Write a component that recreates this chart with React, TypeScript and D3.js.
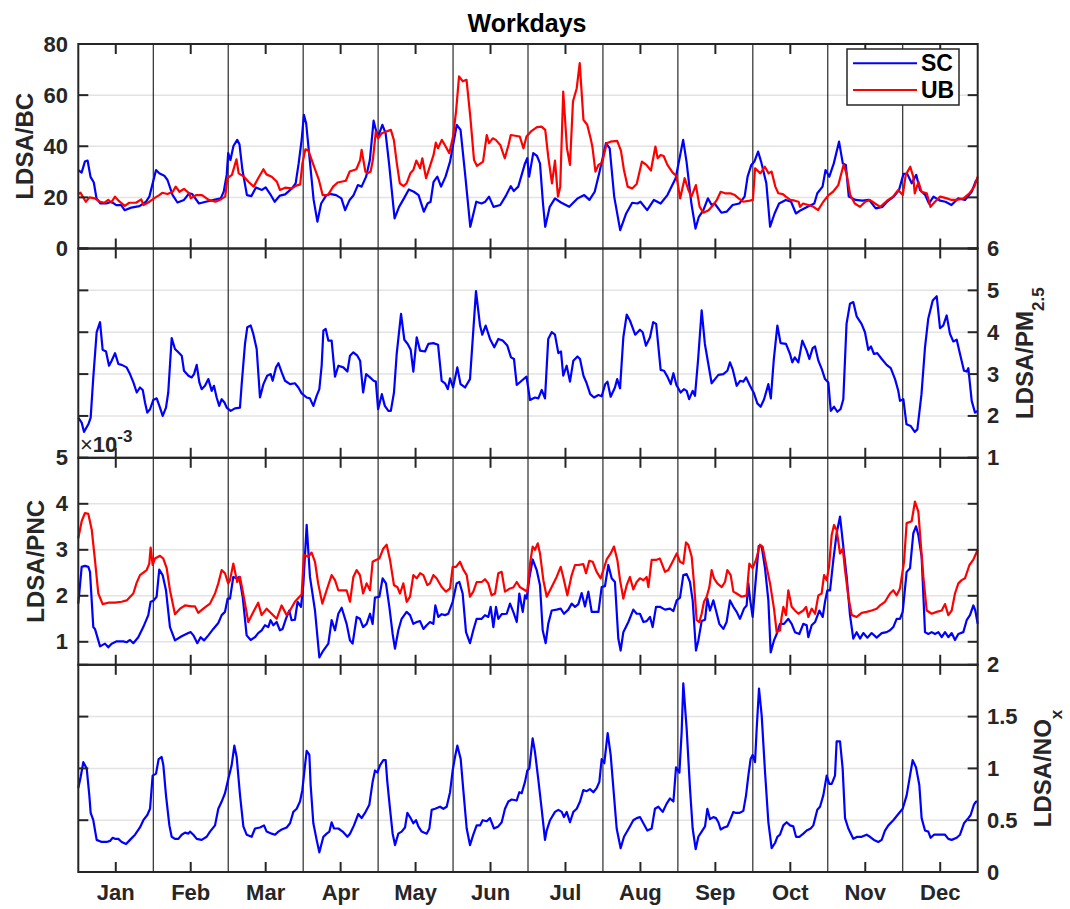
import React from 'react';
import * as d3 from 'd3';

type P = [number, number];

const months = ['Jan', 'Feb', 'Mar', 'Apr', 'May', 'Jun', 'Jul', 'Aug', 'Sep', 'Oct', 'Nov', 'Dec'];
const bcTicks = [0, 20, 40, 60, 80];
const pmTicks = [1, 2, 3, 4, 5, 6];
const pncTicks = [1, 2, 3, 4, 5];
const noxTicks = [0, 0.5, 1, 1.5, 2];
const legendNames = ['SC', 'UB'];

const scBC: P[] = [[0,30.7],[.044,29.7],[.088,34],[.124,34.4],[.163,28],[.207,25.8],[.243,19.6],[.296,17.6],[.375,17.6],[.441,18.3],[.507,17],[.573,17],[.618,15],[.706,16],[.816,16.6],[.904,18.3],[.948,20.3],[1.037,30.7],[1.08,29.4],[1.147,28.5],[1.19,26.8],[1.257,21],[1.323,18],[1.41,19],[1.48,21.6],[1.52,21.3],[1.61,17.6],[1.70,18.3],[1.81,19],[1.90,19.6],[1.94,22.2],[1.98,28.8],[2.0,37.3],[2.03,34.6],[2.07,40.1],[2.12,42.5],[2.15,40.8],[2.19,30.7],[2.25,20.9],[2.31,20.5],[2.37,23.9],[2.45,22.9],[2.50,23.9],[2.56,21.3],[2.62,18.3],[2.69,20.7],[2.76,21.2],[2.85,23.5],[2.90,25.5],[2.94,33.3],[2.98,42.5],[3.01,52.3],[3.04,49],[3.09,34],[3.14,19],[3.19,10.5],[3.24,17.6],[3.31,20.9],[3.37,21.3],[3.44,20.9],[3.51,19.6],[3.56,15],[3.62,19],[3.67,20.7],[3.73,24.8],[3.78,24.2],[3.84,28.1],[3.89,34.6],[3.94,50],[3.97,46.4],[4.0,43.8],[4.057,48.4],[4.10,45.1],[4.146,33.3],[4.22,11.8],[4.28,16.3],[4.345,19.6],[4.41,23.1],[4.477,22.2],[4.54,20.9],[4.61,14.4],[4.66,17.6],[4.70,18.3],[4.74,26.1],[4.79,28.1],[4.84,24.2],[4.90,28.1],[4.96,34],[5.05,48.4],[5.10,46.4],[5.16,29.4],[5.23,8.5],[5.31,18.3],[5.38,17.6],[5.43,18.3],[5.48,20.3],[5.54,16.3],[5.63,17],[5.71,20.9],[5.77,24.4],[5.81,22.5],[5.87,24.2],[5.96,33.3],[5.99,35.3],[6.015,28.1],[6.07,37.3],[6.12,36.2],[6.16,33.3],[6.20,17.6],[6.23,8.5],[6.29,16.3],[6.36,19.6],[6.44,18],[6.55,16.3],[6.66,19.6],[6.75,20.9],[6.82,19],[6.89,22.2],[6.95,29.4],[7.04,41.2],[7.09,39.2],[7.15,20.3],[7.23,7.2],[7.31,13.7],[7.39,17.9],[7.46,17.6],[7.50,18.3],[7.59,15],[7.68,19],[7.77,17.6],[7.86,20.9],[7.97,27.5],[8.07,42.5],[8.115,34],[8.18,17.6],[8.235,7.8],[8.28,12.4],[8.34,15],[8.40,19.6],[8.45,17],[8.49,17.6],[8.58,14],[8.65,14.4],[8.73,17],[8.82,17.6],[8.89,20.3],[8.93,28.1],[8.98,32.7],[9.02,34],[9.07,37.9],[9.11,34],[9.18,25.5],[9.23,8.5],[9.29,13.7],[9.35,17.6],[9.44,19],[9.51,18.3],[9.575,13.7],[9.64,15],[9.73,16.3],[9.82,17.6],[9.86,21.6],[9.93,24.2],[9.97,30.7],[10.02,28.1],[10.08,33.3],[10.15,41.8],[10.20,33.3],[10.24,32.7],[10.28,20.3],[10.37,19],[10.46,18.7],[10.55,19],[10.64,15.7],[10.73,16.3],[10.79,18.3],[10.88,20.3],[10.95,22.9],[11.01,29.2],[11.06,29.2],[11.12,25.5],[11.18,28.8],[11.23,22.9],[11.30,20.9],[11.35,17.6],[11.41,20.3],[11.50,18.7],[11.57,18.3],[11.65,17],[11.74,19.6],[11.83,19],[11.92,22.2],[11.98,26.8]];

const ubBC: P[] = [[0,21.3],[.03,21.8],[.10,18.3],[.15,20],[.22,19.6],[.29,18.3],[.35,17.9],[.40,19],[.44,18],[.49,20.3],[.54,18.6],[.62,16.7],[.68,17.9],[.77,17.9],[.84,19.2],[.87,17],[.95,18.3],[1.01,19.6],[1.08,20.9],[1.12,21.8],[1.19,21.3],[1.26,22.2],[1.30,24.2],[1.35,22.2],[1.41,23.3],[1.48,21.6],[1.50,19.6],[1.57,20.9],[1.65,20.9],[1.74,19],[1.83,18.3],[1.90,19.2],[1.96,20.3],[1.99,27.5],[2.05,28.8],[2.11,34.9],[2.14,29.4],[2.21,28.1],[2.27,26.1],[2.34,24.2],[2.40,27.5],[2.47,31],[2.51,29],[2.58,28.1],[2.65,26.1],[2.69,22.9],[2.76,23.8],[2.85,23.5],[2.91,24.6],[2.96,25.1],[2.99,33.3],[3.03,38.8],[3.07,38.3],[3.13,33.3],[3.21,26.8],[3.26,20.9],[3.33,20.9],[3.40,24.2],[3.46,25.8],[3.57,26.5],[3.62,30.1],[3.71,31],[3.76,34.6],[3.78,38.6],[3.83,30.1],[3.86,29.4],[3.90,30.1],[3.93,34.6],[3.97,45.8],[4.00,43.1],[4.05,45.1],[4.11,45.8],[4.17,46.4],[4.21,42.5],[4.25,33.3],[4.29,25.5],[4.34,24.4],[4.38,25.5],[4.43,29.4],[4.47,30.7],[4.51,34.4],[4.56,31.4],[4.59,35.3],[4.64,27.5],[4.69,32],[4.74,36.6],[4.77,41.4],[4.80,39.2],[4.85,42.5],[4.89,40.5],[4.95,37.3],[5.00,43.8],[5.04,53.6],[5.08,67.3],[5.13,65.4],[5.18,66],[5.23,51.6],[5.28,34.6],[5.32,32.3],[5.40,34],[5.45,44.4],[5.48,41.2],[5.53,43.1],[5.57,42.5],[5.63,40.5],[5.69,35.3],[5.74,40.5],[5.77,44.4],[5.83,44.1],[5.89,43.8],[5.94,39.2],[5.98,43.8],[6.04,45.8],[6.12,47.5],[6.18,47.7],[6.23,46.4],[6.27,35.9],[6.32,25.5],[6.36,34.4],[6.40,20.3],[6.43,24.2],[6.47,61.4],[6.52,39.2],[6.56,32.7],[6.60,57.5],[6.65,62.7],[6.69,72.5],[6.74,50.3],[6.79,48.4],[6.84,42.5],[6.86,39.6],[6.90,30.1],[6.94,32.7],[6.99,33.6],[7.05,41.2],[7.10,41.8],[7.19,42.1],[7.24,38.3],[7.28,30.7],[7.33,24.2],[7.39,23.5],[7.45,25.2],[7.52,34],[7.58,32.7],[7.64,30.5],[7.70,39.9],[7.73,35.3],[7.77,36.6],[7.81,36.2],[7.86,32.7],[7.93,29.7],[7.98,28.4],[8.03,19.6],[8.09,27.5],[8.14,22.9],[8.18,20.3],[8.24,24.8],[8.29,16.3],[8.34,14],[8.41,15],[8.47,17],[8.52,19],[8.57,22.2],[8.63,21.6],[8.70,21.6],[8.76,20.9],[8.81,19.6],[8.87,18.3],[8.94,18.6],[9.00,19],[9.03,31.4],[9.10,29.4],[9.16,32],[9.21,29.4],[9.25,30.1],[9.30,24.2],[9.34,21.6],[9.40,21.3],[9.44,20.3],[9.50,19],[9.56,18.7],[9.61,18.3],[9.63,16.3],[9.67,17.6],[9.74,17],[9.81,16.3],[9.87,15],[9.94,18.3],[10.01,20.9],[10.07,22.2],[10.14,24.8],[10.21,32.7],[10.25,29.4],[10.30,20.9],[10.36,17.6],[10.43,16.3],[10.50,18.3],[10.56,19],[10.63,17.6],[10.70,16.3],[10.79,18.7],[10.87,20.3],[10.94,22.9],[11.00,20.9],[11.04,28.8],[11.10,32],[11.14,28.1],[11.16,21.6],[11.21,26.1],[11.25,22.2],[11.32,21.6],[11.37,16.3],[11.43,18.3],[11.50,20.3],[11.59,19.6],[11.65,19],[11.72,19],[11.81,19.6],[11.89,21.6],[11.955,24.2],[12.0,28.1]];

const scPM: P[] = [[0,1.96],[.045,1.84],[.076,1.62],[.134,1.8],[.165,1.96],[.20,2.92],[.245,4.0],[.29,4.24],[.325,3.58],[.37,3.54],[.41,3.2],[.445,3.32],[.49,3.5],[.535,3.24],[.58,3.22],[.645,3.16],[.69,3.0],[.735,2.8],[.78,2.56],[.823,2.68],[.86,2.62],[.89,2.32],[.92,2.08],[.957,2.16],[1.0,2.38],[1.046,2.42],[1.09,2.2],[1.126,2.0],[1.17,2.2],[1.20,2.56],[1.224,3.24],[1.246,3.86],[1.29,3.6],[1.335,3.52],[1.38,3.44],[1.41,3.08],[1.47,2.96],[1.513,2.92],[1.544,3.0],[1.58,3.22],[1.615,2.8],[1.646,2.64],[1.69,2.72],[1.735,2.88],[1.78,2.6],[1.81,2.72],[1.846,2.44],[1.88,2.24],[1.913,2.4],[1.95,2.32],[1.98,2.2],[2.033,2.12],[2.09,2.18],[2.157,2.2],[2.18,2.76],[2.224,3.72],[2.255,4.12],[2.30,4.16],[2.335,3.96],[2.38,3.6],[2.424,2.44],[2.47,2.76],[2.52,2.96],[2.567,3.0],[2.593,2.84],[2.638,3.16],[2.67,3.26],[2.714,3.04],[2.758,2.84],[2.825,2.76],[2.89,2.78],[2.936,2.68],[2.98,2.54],[3.047,2.44],[3.09,2.42],[3.136,2.24],[3.18,2.48],[3.216,2.64],[3.247,3.2],[3.27,4.04],[3.30,4.08],[3.336,3.8],[3.38,3.8],[3.425,2.94],[3.47,3.2],[3.536,3.16],[3.59,3.06],[3.625,3.44],[3.67,3.52],[3.723,3.44],[3.76,3.32],[3.80,2.56],[3.84,3.0],[3.892,2.92],[3.94,2.84],[3.97,2.82],[4.0,2.16],[4.05,2.52],[4.09,2.24],[4.137,2.12],[4.17,2.12],[4.212,2.56],[4.248,3.48],[4.306,4.44],[4.35,3.82],[4.395,3.72],[4.435,3.58],[4.47,3.06],[4.515,3.88],[4.56,3.56],[4.626,3.54],[4.67,3.72],[4.737,3.74],[4.80,3.7],[4.848,2.84],[4.893,2.78],[4.93,2.64],[4.96,2.9],[5.0,2.68],[5.057,3.16],[5.10,2.76],[5.16,2.68],[5.226,2.88],[5.306,4.98],[5.36,4.16],[5.39,3.94],[5.435,4.16],[5.493,3.84],[5.55,3.64],[5.604,3.84],[5.662,3.8],[5.724,3.68],[5.773,3.4],[5.813,3.36],[5.85,2.74],[5.915,2.84],[5.98,2.94],[6.027,2.38],[6.093,2.44],[6.138,2.42],[6.183,2.62],[6.227,2.42],[6.27,3.84],[6.316,4.0],[6.36,3.94],[6.405,3.5],[6.44,3.54],[6.47,2.96],[6.516,3.2],[6.56,2.82],[6.605,3.32],[6.66,3.42],[6.694,3.36],[6.74,2.96],[6.783,2.78],[6.83,2.52],[6.88,2.44],[6.94,2.5],[6.983,2.47],[7.03,2.76],[7.06,2.82],[7.103,2.46],[7.16,2.68],[7.19,2.88],[7.228,2.66],[7.272,3.88],[7.317,4.42],[7.36,4.28],[7.43,3.94],[7.494,4.06],[7.53,4.0],[7.574,3.68],[7.628,3.88],[7.67,4.24],[7.71,4.2],[7.77,3.1],[7.815,3.08],[7.86,2.94],[7.904,2.76],[7.94,3.02],[7.98,2.74],[8.037,2.56],[8.08,2.64],[8.117,2.6],[8.15,2.4],[8.197,2.6],[8.228,2.48],[8.27,3.36],[8.317,4.52],[8.36,3.72],[8.406,3.24],[8.45,2.78],[8.495,2.88],[8.54,2.98],[8.606,3.0],[8.66,3.08],[8.695,3.28],[8.73,3.12],[8.784,2.72],[8.83,2.84],[8.873,2.82],[8.91,2.92],[8.962,2.72],[9.015,2.54],[9.06,2.3],[9.104,2.22],[9.15,2.4],[9.207,2.76],[9.24,2.42],[9.28,3.36],[9.327,4.16],[9.37,3.74],[9.442,3.72],[9.496,3.48],[9.527,3.28],[9.56,3.4],[9.607,3.28],[9.66,3.8],[9.718,3.56],[9.754,3.36],[9.798,3.62],[9.83,3.66],[9.874,3.32],[9.92,3.12],[9.963,2.88],[10.007,2.8],[10.04,2.12],[10.083,2.22],[10.127,2.1],[10.17,2.16],[10.207,2.4],[10.25,4.2],[10.296,4.68],[10.34,4.72],[10.385,4.38],[10.45,4.2],[10.496,4.0],[10.54,3.58],[10.576,3.66],[10.616,3.48],[10.66,3.5],[10.72,3.36],[10.785,3.22],[10.84,3.14],[10.897,2.88],[10.94,2.6],[10.963,2.36],[11.008,2.4],[11.05,1.8],[11.105,1.76],[11.16,1.62],[11.195,1.68],[11.25,2.52],[11.297,3.64],[11.34,4.32],[11.40,4.76],[11.453,4.86],[11.497,4.1],[11.54,4.16],[11.586,4.4],[11.63,3.96],[11.675,3.78],[11.72,3.82],[11.764,3.48],[11.817,3.08],[11.853,3.06],[11.875,3.14],[11.92,2.36],[11.964,2.08],[12.0,2.12]];

const scPNC: P[] = [[0,1.83],[.045,2.63],[.089,2.65],[.134,2.63],[.156,2.52],[.20,1.32],[.222,1.28],[.267,1.03],[.29,0.9],[.356,0.96],[.40,0.88],[.445,0.96],[.512,1.01],[.60,1.01],[.645,0.99],[.69,1.04],[.734,0.97],[.80,1.1],[.867,1.32],[.934,1.58],[.965,1.87],[1.0,1.89],[1.045,1.98],[1.08,2.57],[1.125,2.45],[1.17,2.12],[1.223,1.32],[1.29,1.03],[1.379,1.12],[1.468,1.19],[1.50,1.21],[1.535,1.14],[1.588,0.97],[1.632,1.1],[1.677,1.03],[1.735,1.14],[1.801,1.28],[1.868,1.41],[1.913,1.58],[1.957,1.65],[1.993,1.94],[2.024,1.94],[2.068,2.41],[2.113,2.38],[2.148,2.41],[2.193,1.98],[2.246,1.14],[2.30,1.04],[2.357,1.1],[2.40,1.19],[2.446,1.25],[2.49,1.36],[2.535,1.32],[2.566,1.47],[2.602,1.36],[2.646,1.43],[2.69,1.25],[2.726,1.28],[2.77,1.5],[2.815,1.68],[2.846,1.47],[2.89,1.48],[2.926,1.87],[2.971,1.76],[3.002,2.23],[3.047,3.54],[3.091,2.41],[3.158,1.68],[3.216,0.66],[3.269,0.81],[3.336,0.96],[3.38,1.47],[3.425,1.25],[3.469,1.61],[3.514,1.74],[3.58,1.39],[3.625,1.03],[3.66,0.96],[3.714,1.54],[3.758,1.5],[3.80,1.32],[3.847,1.39],[3.892,1.61],[3.927,1.39],[3.958,1.96],[4.017,1.98],[4.06,2.38],[4.105,2.27],[4.15,1.76],[4.194,1.17],[4.225,0.85],[4.27,1.25],[4.314,1.5],[4.38,1.65],[4.426,1.58],[4.47,1.39],[4.515,1.43],[4.56,1.45],[4.604,1.28],[4.648,1.36],[4.692,1.43],[4.737,1.39],[4.764,1.79],[4.804,1.54],[4.848,1.6],[4.893,1.58],[4.937,1.61],[4.995,1.87],[5.048,2.27],[5.084,2.3],[5.128,2.05],[5.173,1.21],[5.226,0.97],[5.27,1.25],[5.315,1.5],[5.382,1.5],[5.426,1.58],[5.47,1.54],[5.502,1.76],[5.538,1.32],[5.573,1.76],[5.604,1.5],[5.649,1.6],[5.716,1.61],[5.76,1.83],[5.804,1.65],[5.85,1.43],[5.884,2.05],[5.93,1.65],[5.96,2.01],[5.982,1.94],[6.018,2.38],[6.062,2.79],[6.116,2.56],[6.16,2.23],[6.196,1.25],[6.236,0.97],[6.27,1.39],[6.316,1.68],[6.382,1.7],[6.436,1.72],[6.48,1.61],[6.538,1.7],[6.583,1.83],[6.627,1.76],[6.672,1.82],[6.716,2.06],[6.76,1.77],[6.805,2.09],[6.85,1.65],[6.894,1.65],[6.94,1.65],[6.983,2.19],[7.027,2.21],[7.072,2.67],[7.116,2.38],[7.16,2.3],[7.205,1.07],[7.236,0.81],[7.272,1.21],[7.339,1.43],[7.405,1.7],[7.45,1.61],[7.494,1.61],[7.54,1.43],[7.583,1.45],[7.628,1.54],[7.663,1.32],[7.708,1.76],[7.76,1.76],[7.828,1.7],[7.894,1.72],[7.94,1.67],[7.984,1.9],[8.028,1.96],[8.072,2.45],[8.117,2.47],[8.161,2.3],[8.197,1.9],[8.241,0.81],[8.273,1.03],[8.317,1.45],[8.362,1.48],[8.393,1.94],[8.428,1.68],[8.473,1.9],[8.508,1.68],[8.553,1.39],[8.606,1.28],[8.65,1.43],[8.695,1.9],[8.74,1.76],[8.784,1.65],[8.828,1.5],[8.882,1.72],[8.917,1.79],[8.94,2.27],[8.962,1.94],[8.997,1.54],[9.042,2.41],[9.078,3.08],[9.118,3.07],[9.162,2.6],[9.207,1.9],[9.238,0.77],[9.282,1.03],[9.318,1.17],[9.362,1.39],[9.416,1.39],[9.473,1.5],[9.518,1.39],[9.562,1.21],[9.62,1.17],[9.673,1.39],[9.718,1.36],[9.74,1.1],[9.785,1.36],[9.83,1.43],[9.887,1.68],[9.932,1.54],[9.963,1.87],[9.994,2.12],[10.03,2.12],[10.074,2.78],[10.118,3.36],[10.163,3.72],[10.207,3.07],[10.252,2.41],[10.296,1.58],[10.34,1.07],[10.385,1.21],[10.43,1.07],[10.474,1.19],[10.528,1.09],[10.585,1.19],[10.652,1.09],[10.72,1.19],[10.785,1.21],[10.83,1.25],[10.874,1.32],[10.919,1.5],[10.963,1.5],[10.999,1.65],[11.052,2.52],[11.097,2.6],[11.141,3.36],[11.177,3.51],[11.208,3.32],[11.252,2.85],[11.297,1.21],[11.341,1.17],[11.386,1.21],[11.43,1.17],[11.475,1.21],[11.52,1.1],[11.564,1.21],[11.608,1.1],[11.653,1.19],[11.697,1.04],[11.742,1.17],[11.808,1.21],[11.853,1.47],[11.897,1.58],[11.942,1.79],[11.968,1.68],[12.0,1.39]];

const ubPNC: P[] = [[0,3.25],[.045,3.62],[.089,3.8],[.134,3.78],[.18,3.43],[.222,2.78],[.267,2.05],[.325,1.82],[.40,1.85],[.49,1.85],[.578,1.87],[.645,1.9],[.734,2.05],[.778,2.28],[.823,2.45],[.912,2.56],[.947,2.7],[.965,3.05],[.992,2.67],[1.023,2.81],[1.09,2.87],[1.134,2.81],[1.179,2.6],[1.223,2.12],[1.29,1.6],[1.357,1.72],[1.423,1.79],[1.512,1.77],[1.557,1.77],[1.60,1.63],[1.668,1.72],[1.757,1.83],[1.824,2.05],[1.868,2.27],[1.913,2.56],[1.957,2.49],[2.0,2.27],[2.024,2.34],[2.068,2.7],[2.12,2.3],[2.157,2.41],[2.20,2.05],[2.268,1.43],[2.335,1.65],[2.40,1.85],[2.446,1.58],[2.513,1.72],[2.58,1.61],[2.646,1.5],[2.713,1.79],[2.78,1.58],[2.824,1.68],[2.89,1.87],[2.957,1.99],[2.98,2.03],[3.01,2.89],[3.069,2.85],[3.113,2.94],[3.158,2.74],[3.20,2.27],[3.256,1.83],[3.313,2.12],[3.38,2.45],[3.425,2.34],[3.469,2.12],[3.514,2.12],[3.58,2.12],[3.625,1.87],[3.67,2.41],[3.714,2.56],[3.758,2.45],[3.80,2.05],[3.847,2.27],[3.892,2.12],[3.927,2.74],[3.97,2.78],[4.017,2.81],[4.07,3.03],[4.114,3.11],[4.159,2.78],[4.212,2.23],[4.257,2.19],[4.292,2.05],[4.337,2.27],[4.381,1.87],[4.426,1.98],[4.47,2.45],[4.515,2.38],[4.56,2.49],[4.604,2.45],[4.657,2.23],[4.692,2.27],[4.737,2.45],[4.78,2.38],[4.848,2.19],[4.906,2.09],[4.96,2.16],[4.995,2.63],[5.04,2.63],[5.093,2.74],[5.137,2.57],[5.182,2.45],[5.226,1.98],[5.27,2.09],[5.315,2.3],[5.382,2.3],[5.426,2.36],[5.47,2.27],[5.515,2.01],[5.56,2.05],[5.604,2.49],[5.649,2.52],[5.693,2.09],[5.76,2.16],[5.804,2.18],[5.85,2.3],[5.893,2.19],[5.96,2.12],[5.99,2.09],[6.027,2.7],[6.062,3.07],[6.093,3.0],[6.13,3.14],[6.16,2.92],[6.205,2.34],[6.25,1.98],[6.316,2.19],[6.382,2.41],[6.436,2.63],[6.47,2.41],[6.525,2.01],[6.583,2.45],[6.627,2.67],[6.672,2.67],[6.738,2.69],[6.774,2.49],[6.818,2.76],[6.863,2.74],[6.916,2.52],[6.97,2.38],[7.005,2.56],[7.05,2.79],[7.103,2.92],[7.147,3.07],[7.192,2.78],[7.228,2.34],[7.272,1.94],[7.317,2.23],[7.36,2.41],[7.405,2.14],[7.45,2.3],[7.494,2.38],[7.54,2.34],[7.583,2.41],[7.606,2.19],[7.65,2.78],[7.708,2.78],[7.76,2.81],[7.828,2.52],[7.872,2.56],[7.917,2.7],[7.984,2.92],[8.028,2.74],[8.072,2.7],[8.108,3.16],[8.139,3.11],[8.184,2.85],[8.215,2.27],[8.25,1.47],[8.286,1.43],[8.317,1.61],[8.348,1.87],[8.384,1.98],[8.42,2.19],[8.45,2.56],[8.482,2.38],[8.526,2.27],[8.584,2.19],[8.628,2.3],[8.66,2.56],[8.704,2.45],[8.74,2.09],[8.784,2.05],[8.85,1.98],[8.917,2.01],[8.953,2.7],[8.997,2.6],[9.042,2.78],[9.095,3.11],[9.13,3.07],[9.175,2.7],[9.229,2.27],[9.282,1.72],[9.318,1.21],[9.362,1.25],[9.384,1.54],[9.407,1.76],[9.442,1.58],[9.473,2.12],[9.518,1.76],[9.562,1.68],[9.607,1.61],[9.673,1.68],[9.71,1.76],[9.74,1.54],[9.785,1.72],[9.83,1.61],[9.874,2.01],[9.918,2.05],[9.95,2.45],[9.985,2.34],[10.016,2.63],[10.052,3.32],[10.083,3.54],[10.118,3.43],[10.163,2.92],[10.2,3.03],[10.23,2.56],[10.274,1.98],[10.32,1.58],[10.385,1.54],[10.452,1.63],[10.518,1.65],[10.585,1.68],[10.652,1.72],[10.696,1.79],[10.763,1.87],[10.83,2.05],[10.874,2.12],[10.919,2.01],[10.963,2.16],[11.017,2.74],[11.052,3.58],[11.119,3.62],[11.163,4.05],[11.208,3.83],[11.24,3.14],[11.275,2.41],[11.32,1.68],[11.386,1.61],[11.452,1.65],[11.52,1.68],[11.564,1.82],[11.608,1.58],[11.653,1.68],[11.697,2.05],[11.742,2.27],[11.786,2.34],[11.83,2.38],[11.89,2.67],[11.94,2.78],[12.0,3.0]];

const scNOx: P[] = [[0,0.81],[.032,0.92],[.067,1.06],[.112,1.0],[.147,0.74],[.165,0.57],[.20,0.5],[.245,0.31],[.312,0.29],[.379,0.29],[.423,0.3],[.459,0.33],[.49,0.32],[.534,0.32],[.579,0.29],[.637,0.27],[.69,0.31],[.757,0.36],[.823,0.43],[.868,0.5],[.921,0.55],[.957,0.61],[.992,0.93],[1.037,0.95],[1.072,1.09],[1.112,1.11],[1.135,1.03],[1.17,0.74],[1.215,0.45],[1.246,0.34],[1.29,0.32],[1.335,0.32],[1.38,0.36],[1.424,0.38],[1.468,0.37],[1.49,0.39],[1.535,0.36],[1.58,0.32],[1.646,0.31],[1.713,0.34],[1.757,0.39],[1.824,0.45],[1.868,0.61],[1.913,0.68],[1.957,0.76],[2.002,0.9],[2.046,1.03],[2.082,1.22],[2.113,1.11],[2.158,0.74],[2.202,0.44],[2.246,0.36],[2.313,0.34],[2.358,0.42],[2.424,0.43],[2.478,0.45],[2.513,0.39],[2.58,0.37],[2.625,0.36],[2.669,0.39],[2.714,0.41],[2.78,0.43],[2.825,0.47],[2.869,0.58],[2.914,0.61],[2.958,0.68],[2.989,0.79],[3.025,1.03],[3.047,1.17],[3.083,1.13],[3.1,0.84],[3.136,0.47],[3.18,0.31],[3.216,0.19],[3.27,0.34],[3.314,0.37],[3.35,0.39],[3.38,0.48],[3.412,0.42],[3.47,0.42],[3.527,0.39],[3.59,0.34],[3.625,0.37],[3.678,0.45],[3.736,0.56],[3.78,0.52],[3.825,0.57],[3.883,0.65],[3.927,0.87],[3.959,0.98],[3.99,0.96],[4.025,1.03],[4.07,1.08],[4.101,1.08],[4.123,0.87],[4.159,0.61],[4.194,0.37],[4.226,0.26],[4.27,0.37],[4.314,0.39],[4.359,0.43],[4.39,0.57],[4.426,0.53],[4.47,0.47],[4.506,0.5],[4.537,0.44],[4.581,0.39],[4.648,0.37],[4.684,0.42],[4.715,0.6],[4.76,0.61],[4.826,0.63],[4.87,0.61],[4.915,0.63],[4.96,0.77],[4.995,0.98],[5.026,1.11],[5.057,1.22],[5.102,1.09],[5.137,0.79],[5.182,0.42],[5.226,0.26],[5.27,0.36],[5.315,0.45],[5.36,0.45],[5.395,0.5],[5.449,0.49],[5.493,0.52],[5.546,0.42],[5.604,0.44],[5.649,0.48],[5.693,0.61],[5.738,0.68],[5.782,0.7],[5.849,0.69],[5.884,0.77],[5.916,0.76],[5.96,0.87],[5.991,0.98],[6.018,1.0],[6.062,1.29],[6.093,1.16],[6.138,0.89],[6.182,0.61],[6.227,0.31],[6.249,0.4],[6.294,0.5],[6.36,0.58],[6.405,0.6],[6.45,0.58],[6.48,0.53],[6.516,0.58],[6.56,0.48],[6.605,0.58],[6.65,0.61],[6.694,0.68],[6.738,0.79],[6.783,0.78],[6.827,0.8],[6.872,0.77],[6.916,0.81],[6.952,0.87],[6.983,1.09],[7.018,1.05],[7.063,1.34],[7.103,1.13],[7.139,0.81],[7.183,0.42],[7.236,0.23],[7.281,0.34],[7.352,0.43],[7.405,0.5],[7.45,0.52],[7.494,0.53],[7.539,0.47],[7.592,0.4],[7.65,0.42],[7.694,0.61],[7.739,0.63],[7.797,0.58],[7.85,0.66],[7.895,0.71],[7.94,0.68],[7.975,1.01],[8.02,0.96],[8.05,1.35],[8.072,1.82],[8.117,1.38],[8.161,0.81],[8.197,0.42],[8.237,0.22],[8.273,0.34],[8.317,0.39],[8.362,0.44],[8.393,0.61],[8.428,0.51],[8.473,0.53],[8.508,0.52],[8.54,0.48],[8.57,0.41],[8.615,0.43],[8.66,0.44],[8.695,0.5],[8.74,0.58],[8.775,0.57],[8.82,0.57],[8.873,0.59],[8.909,0.74],[8.94,0.93],[8.97,1.09],[8.997,1.13],[9.029,1.06],[9.051,1.38],[9.082,1.77],[9.118,1.51],[9.162,0.97],[9.207,0.48],[9.251,0.23],[9.296,0.28],[9.327,0.34],[9.362,0.36],[9.407,0.45],[9.451,0.48],[9.496,0.45],[9.54,0.44],[9.576,0.34],[9.62,0.34],[9.674,0.37],[9.718,0.4],[9.771,0.42],[9.807,0.45],[9.86,0.6],[9.896,0.63],[9.94,0.74],[9.985,0.93],[10.02,0.85],[10.052,0.85],[10.096,0.93],[10.118,1.26],[10.163,1.26],[10.198,1.0],[10.23,0.52],[10.274,0.42],[10.34,0.32],[10.394,0.34],[10.452,0.34],[10.518,0.36],[10.563,0.34],[10.616,0.31],[10.674,0.29],[10.719,0.31],[10.763,0.4],[10.808,0.45],[10.874,0.5],[10.941,0.56],[10.999,0.61],[11.052,0.74],[11.097,0.93],[11.132,1.08],[11.177,1.01],[11.221,0.84],[11.252,0.52],[11.297,0.4],[11.341,0.39],[11.372,0.33],[11.417,0.36],[11.497,0.36],[11.564,0.36],[11.608,0.32],[11.653,0.31],[11.72,0.33],[11.764,0.36],[11.817,0.47],[11.875,0.52],[11.906,0.55],[11.95,0.65],[11.977,0.68],[12.0,0.68]];

const BLUE = '#0000ff';
const RED = '#ff0000';
const AX = '#262626';
const FONT = '"Liberation Sans", Arial, Helvetica, sans-serif';

const W = 1070;
const H = 909;
const X0 = 78.3;
const X1 = 977.7;
const B = [44, 248.5, 457.8, 664.8, 872];

type Panel = {
  domain: [number, number];
  ticks: number[];
  labelSide: 'left' | 'right';
  series: { data: P[]; color: string }[];
};

const panels: Panel[] = [
  { domain: [0, 80], ticks: bcTicks, labelSide: 'left', series: [{ data: scBC, color: BLUE }, { data: ubBC, color: RED }] },
  { domain: [1, 6], ticks: pmTicks, labelSide: 'right', series: [{ data: scPM, color: BLUE }] },
  { domain: [0.5, 5], ticks: pncTicks, labelSide: 'left', series: [{ data: scPNC, color: BLUE }, { data: ubPNC, color: RED }] },
  { domain: [0, 2], ticks: noxTicks, labelSide: 'right', series: [{ data: scNOx, color: BLUE }] },
];

export default function App() {
  const x = d3.scaleLinear().domain([0, 12]).range([X0, X1]);
  const monthCenters = months.map((_, i) => i + 0.5);
  const separators = d3.range(1, 12);
  const TL = 10;

  return (
    <svg width={W} height={H} style={{ position: 'absolute', left: 0, top: 0, background: '#fff' }} fontFamily={FONT}>
      <rect x={0} y={0} width={W} height={H} fill="#fff" />
      {panels.map((p, pi) => {
        const y = d3.scaleLinear().domain(p.domain).range([B[pi + 1], B[pi]]);
        return p.ticks
          .filter((t) => t > p.domain[0] && t < p.domain[1])
          .map((t) => (
            <line key={`g${pi}-${t}`} x1={X0} x2={X1} y1={y(t)} y2={y(t)} stroke="#e3e3e3" strokeWidth={1.5} />
          ));
      })}
      {separators.map((m) => (
        <line key={`s${m}`} x1={x(m)} x2={x(m)} y1={B[0]} y2={B[4]} stroke="#000" strokeWidth={1} />
      ))}
      {panels.map((p, pi) => {
        const y = d3.scaleLinear().domain(p.domain).range([B[pi + 1], B[pi]]);
        const line = d3.line<P>().x((d) => x(d[0])).y((d) => y(d[1]));
        return p.series.map((s, si) => (
          <path key={`d${pi}-${si}`} d={line(s.data) || ''} fill="none" stroke={s.color} strokeWidth={2.2} strokeLinejoin="round" />
        ));
      })}
      {panels.map((p, pi) => {
        const y = d3.scaleLinear().domain(p.domain).range([B[pi + 1], B[pi]]);
        const top = B[pi];
        const bot = B[pi + 1];
        return (
          <g key={`a${pi}`}>
            {monthCenters.map((m) => (
              <g key={`xt${m}`}>
                <line x1={x(m)} x2={x(m)} y1={top} y2={top + TL} stroke={AX} strokeWidth={2} />
                <line x1={x(m)} x2={x(m)} y1={bot} y2={bot - TL} stroke={AX} strokeWidth={2} />
              </g>
            ))}
            {p.ticks.map((t) => (
              <g key={`yt${t}`}>
                <line x1={X0} x2={X0 + TL} y1={y(t)} y2={y(t)} stroke={AX} strokeWidth={2} />
                <line x1={X1} x2={X1 - TL} y1={y(t)} y2={y(t)} stroke={AX} strokeWidth={2} />
                <text
                  x={p.labelSide === 'left' ? 68 : 987}
                  y={y(t)}
                  textAnchor={p.labelSide === 'left' ? 'end' : 'start'}
                  dominantBaseline="central"
                  fontSize={22}
                  fontWeight="bold"
                  fill={AX}
                >
                  {String(t)}
                </text>
              </g>
            ))}
            <rect x={X0} y={top} width={X1 - X0} height={bot - top} fill="none" stroke={AX} strokeWidth={2} />
          </g>
        );
      })}
      {months.map((m, i) => (
        <text key={m} x={x(i + 0.5)} y={900} textAnchor="middle" fontSize={22} fontWeight="bold" fill={AX}>
          {m}
        </text>
      ))}
      <text x={527} y={32} textAnchor="middle" fontSize={25} fontWeight="bold" fill="#000">
        Workdays
      </text>
      <text transform={`translate(32.5,${(B[0] + B[1]) / 2}) rotate(-90)`} textAnchor="middle" fontSize={24} fontWeight="bold" fill={AX}>
        LDSA/BC
      </text>
      <text transform={`translate(1033,${(B[1] + B[2]) / 2}) rotate(-90)`} textAnchor="middle" fontSize={24} fontWeight="bold" fill={AX}>
        LDSA/PM<tspan fontSize={17} dy={11}>2.5</tspan>
      </text>
      <text transform={`translate(44.3,${(B[2] + B[3]) / 2}) rotate(-90)`} textAnchor="middle" fontSize={24} fontWeight="bold" fill={AX}>
        LDSA/PNC
      </text>
      <text transform={`translate(1051,${(B[3] + B[4]) / 2}) rotate(-90)`} textAnchor="middle" fontSize={24} fontWeight="bold" fill={AX}>
        LDSA/NO<tspan fontSize={17} dy={11}>x</tspan>
      </text>
      <text x={80} y={452} fontSize={22} fill={AX}>
        {'\u00D7'}<tspan fontWeight="bold">10</tspan><tspan fontSize={17} fontWeight="bold" dy={-10}>-3</tspan>
      </text>
      <g>
        <rect x={847} y={49} width={112} height={56} fill="#fff" stroke={AX} strokeWidth={1.5} />
        {legendNames.map((n, i) => (
          <g key={n}>
            <line x1={853} x2={917} y1={63.3 + i * 26.7} y2={63.3 + i * 26.7} stroke={i === 0 ? BLUE : RED} strokeWidth={2} />
            <text x={921} y={63.3 + i * 26.7} dominantBaseline="central" fontSize={23} fontWeight="bold" fill="#000">
              {n}
            </text>
          </g>
        ))}
      </g>
    </svg>
  );
}
